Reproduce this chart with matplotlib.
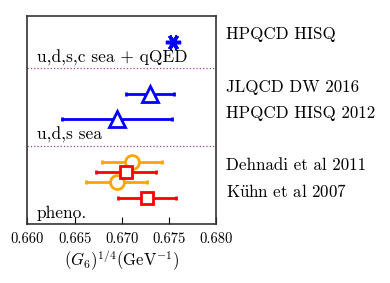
import numpy as np
import matplotlib
matplotlib.use("Agg")
import matplotlib.pyplot as plt

plt.rcParams["font.family"] = "serif"
plt.rcParams["font.serif"] = ["cmr10"]
plt.rcParams["mathtext.fontset"] = "cm"
plt.rcParams["axes.formatter.use_mathtext"] = True

# --- data ---
labels = ["HPQCD HISQ", "JLQCD DW 2016", "HPQCD HISQ 2012",
          "Dehnadi et al 2011", r"K$\ddot{\mathrm{u}}$hn et al 2007"]
label_y = [18.2, 13.1, 10.6, 5.6, 3.1]

# lattice results
hisq_x, hisq_err, hisq_y = 0.6754, 0.0002, 17.5
jlqcd_x, jlqcd_lo, jlqcd_hi, jlqcd_y = 0.6730, 0.6705, 0.6755, 12.5
hpqcd12_x, hpqcd12_lo, hpqcd12_hi, hpqcd12_y = 0.6695, 0.6637, 0.6753, 10.1

# pheno results
dehnadi_x = [0.6711, 0.6695]
dehnadi_lo = [0.6679, 0.6662]
dehnadi_hi = [0.6743, 0.6727]
dehnadi_y = [6.0, 4.0]

kuhn_x = [0.6705, 0.6727]
kuhn_lo = [0.6673, 0.6696]
kuhn_hi = [0.6736, 0.6757]
kuhn_y = [5.0, 2.5]

separators = [15.0, 7.5]
groups = ["u,d,s,c sea + qQED", "u,d,s sea", "pheno."]
group_y = [16.0, 8.6, 1.0]

blue, orange, red = "#0000ff", "#ffa500", "#ff0000"

fig = plt.figure(figsize=(3.9, 2.83), dpi=100)
ax = fig.add_axes([0.0705, 0.2085, 0.4835, 0.736])

def bar(x, lo, hi, y, color, marker, ms):
    x = np.atleast_1d(x)
    lo = np.atleast_1d(lo)
    hi = np.atleast_1d(hi)
    ax.errorbar(x, y, xerr=[x - lo, hi - x], fmt=marker, color=color, ms=ms,
                mfc="white", mec=color, mew=2, lw=2, capsize=1.5, capthick=2,
                zorder=3)

ax.errorbar([hisq_x], [hisq_y], xerr=[hisq_err], fmt="none", color=blue, lw=2)
ax.plot([hisq_x], [hisq_y], marker=(6, 2, 90), color=blue, ms=11, mew=2.5,
        ls="none", zorder=3)
bar(jlqcd_x, jlqcd_lo, jlqcd_hi, jlqcd_y, blue, "^", 11)
bar(hpqcd12_x, hpqcd12_lo, hpqcd12_hi, hpqcd12_y, blue, "^", 11)
bar(dehnadi_x, dehnadi_lo, dehnadi_hi, dehnadi_y, orange, "o", 10)
bar(kuhn_x, kuhn_lo, kuhn_hi, kuhn_y, red, "s", 9)

for s in separators:
    ax.axhline(s, color="#a040a0", ls=":", lw=0.9)

for g, gy in zip(groups, group_y):
    ax.text(0.6610, gy, g, fontsize=12.5, va="center", ha="left")

for lab, ly in zip(labels, label_y):
    ax.annotate(lab, xy=(1.053, ly), xycoords=("axes fraction", "data"),
                fontsize=12.2, va="center", ha="left", annotation_clip=False)

ax.set_xlim(0.660, 0.680)
ax.set_ylim(0, 20)
ax.set_xticks(np.arange(0.660, 0.6801, 0.005))
ax.set_xticklabels(["0.660", "0.665", "0.670", "0.675", "0.680"])
ax.set_yticks([])
ax.tick_params(axis="x", direction="in", length=5, labelsize=10.5, pad=6)
for sp in ax.spines.values():
    sp.set_color("#333333")
    sp.set_linewidth(1.2)
ax.set_xlabel(r"$(G_6)^{1/4}(\mathrm{GeV}^{-1})$", fontsize=12, labelpad=2)

fig.savefig("out.png", dpi=100)
